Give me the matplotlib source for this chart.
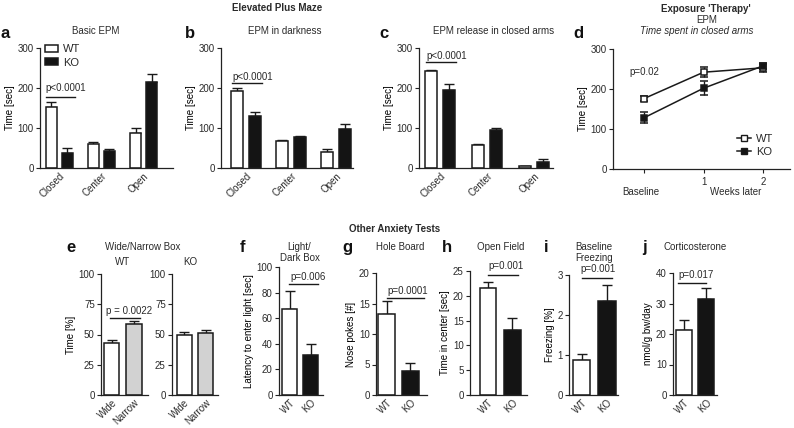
import matplotlib
matplotlib.use("Agg")
import matplotlib.pyplot as plt
from matplotlib.patches import Patch
from matplotlib.lines import Line2D

plt.rcParams['font.family'] = ['Liberation Sans', 'DejaVu Sans']
TXT = '#2a2a2a'
plt.rcParams['text.color'] = TXT
plt.rcParams['axes.edgecolor'] = '#222222'
plt.rcParams['xtick.color'] = '#222222'
plt.rcParams['ytick.color'] = '#222222'
plt.rcParams['xtick.labelcolor'] = TXT
plt.rcParams['ytick.labelcolor'] = TXT

# ---------------- data ----------------
epm_categories = ['Closed', 'Center', 'Open']
a_wt = [152, 60, 87];   a_wt_err = [13, 5, 13]
a_ko = [37, 42, 216];   a_ko_err = [13, 6, 18]
b_wt = [193, 68, 41];   b_wt_err = [6, 2, 6]
b_ko = [129, 77, 97];   b_ko_err = [12, 4, 13]
c_wt = [242, 58, 4];    c_wt_err = [2, 2, 2]
c_ko = [196, 94, 14];   c_ko_err = [13, 7, 8]

d_x = [0, 1, 2]
d_ticklabels = ['', '1', '2']
d_wt = [176, 242, 253]; d_wt_err = [6, 13, 10]
d_ko = [128, 202, 258]; d_ko_err = [14, 18, 8]

box_categories = ['Wide', 'Narrow']
e_wt = [43, 58.5];  e_wt_err = [2.5, 2.3]
e_ko = [50, 51.5];  e_ko_err = [2.3, 2.3]

geno = ['WT', 'KO']
f_vals = [67.5, 31];    f_err = [13.5, 8.5]
g_vals = [13.3, 4.0];   g_err = [2.1, 1.3]
h_vals = [21.5, 13.1];  h_err = [1.3, 2.5]
i_vals = [0.88, 2.35];  i_err = [0.15, 0.41]
j_vals = [21.2, 31.5];  j_err = [3.5, 3.5]

W, H = 794, 428
fig = plt.figure(figsize=(W / 100, H / 100), dpi=100)


def px_axes(l, t, r, b):
    return fig.add_axes([l / W, 1 - b / H, (r - l) / W, (b - t) / H])


def ftext(x, y, s, **kw):
    kw.setdefault('ha', 'center')
    kw.setdefault('va', 'center')
    fig.text(x / W, 1 - y / H, s, **kw)


def style(ax, ylim, yticks, xlim):
    ax.set_ylim(*ylim)
    ax.set_xlim(*xlim)
    ax.set_yticks(yticks)
    for s in ['top', 'right']:
        ax.spines[s].set_visible(False)
    for s in ['left', 'bottom']:
        ax.spines[s].set_linewidth(0.9)
    ax.tick_params(axis='y', length=3, width=0.8, labelsize=7, pad=1.5)
    ax.tick_params(axis='x', length=0, labelsize=7, pad=2)
    ax.patch.set_alpha(0)


def bars(ax, xs, vals, errs, color, width):
    ax.bar(xs, vals, width=width, color=color, edgecolor='#1a1a1a', linewidth=1.1, zorder=2)
    ax.errorbar(xs, vals, yerr=[[0] * len(vals), errs], fmt='none', ecolor='#1a1a1a',
                elinewidth=1.0, capsize=3.5, capthick=1.0, zorder=1)


def pline(ax, x0, x1, y, ty, tx, label, ha='left'):
    ax.plot([x0, x1], [y, y], color='#1a1a1a', lw=1.0, clip_on=False)
    ax.text(tx, ty, label, ha=ha, va='center', fontsize=7, clip_on=False)


def epm_panel(box, xlim, wt, wt_err, ko, ko_err, off, width):
    ax = px_axes(*box)
    xs = list(range(len(epm_categories)))
    bars(ax, [x - off for x in xs], wt, wt_err, 'white', width)
    bars(ax, [x + off for x in xs], ko, ko_err, '#141414', width)
    style(ax, (0, 300), [0, 100, 200, 300], xlim)
    ax.set_xticks(xs)
    ax.set_xticklabels(epm_categories, rotation=45, ha='right', rotation_mode='anchor')
    ax.set_ylabel('Time [sec]', fontsize=7, labelpad=2)
    return ax

# ---------- top row ----------
ax_a = epm_panel((40, 48, 173, 168), (-0.46, 2.70), a_wt, a_wt_err, a_ko, a_ko_err, 0.19, 0.27)
pline(ax_a, -0.32, 0.37, 177, 200, -0.32, 'p<0.0001')
ax_a.legend(handles=[Patch(facecolor='white', edgecolor='#1a1a1a', lw=1.1),
                     Patch(facecolor='#141414', edgecolor='#1a1a1a', lw=1.1)],
            labels=['WT', 'KO'], loc='upper left', bbox_to_anchor=(0.04, 1.03),
            frameon=False, fontsize=8, handlelength=1.1, handleheight=0.55,
            handletextpad=0.5, labelspacing=0.3, borderpad=0, borderaxespad=0)

ax_b = epm_panel((221, 48, 353, 168), (-0.56, 2.38), b_wt, b_wt_err, b_ko, b_ko_err, 0.2, 0.27)
pline(ax_b, -0.31, 0.36, 212, 227, -0.31, 'p<0.0001')

ax_c = epm_panel((419, 48, 553, 168), (-0.45, 2.40), c_wt, c_wt_err, c_ko, c_ko_err, 0.19, 0.25)
pline(ax_c, -0.30, 0.34, 265, 280, -0.30, 'p<0.0001')

ax_d = px_axes(613, 49, 790, 169)
ax_d.errorbar(d_x, d_wt, yerr=d_wt_err, color='#1a1a1a', lw=1.1, marker='s', ms=5,
              mfc='white', mec='#1a1a1a', mew=1.1, capsize=3, elinewidth=1.0, zorder=3, label='WT')
ax_d.errorbar(d_x, d_ko, yerr=d_ko_err, color='#1a1a1a', lw=1.1, marker='s', ms=5,
              mfc='#141414', mec='#1a1a1a', mew=1.1, capsize=3, elinewidth=1.0, zorder=3, label='KO')
style(ax_d, (0, 300), [0, 100, 200, 300], (-0.52, 2.45))
ax_d.set_xticks(d_x)
ax_d.set_xticklabels(d_ticklabels)
ax_d.tick_params(axis='x', length=3, width=0.8, labelsize=7, pad=3)
ax_d.set_ylabel('Time [sec]', fontsize=7, labelpad=2)
ax_d.text(-0.24, 242, 'p=0.02', ha='left', va='center', fontsize=7)
ax_d.legend(handles=[Line2D([], [], color='#1a1a1a', lw=1.1, marker='s', ms=5, mfc='white', mec='#1a1a1a'),
                     Line2D([], [], color='#1a1a1a', lw=1.1, marker='s', ms=5, mfc='#141414', mec='#1a1a1a')],
            labels=['WT', 'KO'], loc='upper left', bbox_to_anchor=(0.70, 0.29),
            frameon=False, fontsize=8, handlelength=1.3, handletextpad=0.4,
            labelspacing=0.25, borderpad=0, borderaxespad=0)
ftext(641, 192, 'Baseline', fontsize=7)
ftext(736, 192, 'Weeks later', fontsize=7)

# ---------- bottom row ----------
def two_bar(box, xlim, ylim, yticks, vals, errs, colors, labels, ylabel, width=0.7):
    ax = px_axes(*box)
    xs = [0, 1]
    for x, v, e, c in zip(xs, vals, errs, colors):
        bars(ax, [x], [v], [e], c, width)
    style(ax, ylim, yticks, xlim)
    ax.set_xticks(xs)
    ax.set_xticklabels(labels, rotation=45, ha='right', rotation_mode='anchor')
    if ylabel:
        ax.set_ylabel(ylabel, fontsize=7, labelpad=2)
    return ax

ax_e1 = two_bar((101, 274, 148, 395), (-0.47, 1.62), (0, 100), [0, 25, 50, 75, 100],
                e_wt, e_wt_err, ['white', '#d2d2d2'], box_categories, 'Time [%]')
pline(ax_e1, -0.07, 1.26, 63.6, 69.4, 0.76, 'p = 0.0022', ha='center')
ax_e2 = two_bar((172, 274, 218, 395), (-0.56, 1.58), (0, 100), [0, 25, 50, 75, 100],
                e_ko, e_ko_err, ['white', '#d2d2d2'], box_categories, None)

ax_f = two_bar((279, 267, 323, 395), (-0.49, 1.56), (0, 100), [0, 20, 40, 60, 80, 100],
               f_vals, f_err, ['white', '#141414'], geno, 'Latency to enter light [sec]')
pline(ax_f, -0.02, 1.33, 86.7, 92.2, 0.02, 'p=0.006')

ax_g = two_bar((376, 273, 427, 395), (-0.44, 1.69), (0, 20), [0, 5, 10, 15, 20],
               g_vals, g_err, ['white', '#141414'], geno, 'Nose pokes [#]')
pline(ax_g, 0.02, 1.57, 15.9, 17.0, 0.02, 'p=0.0001')

ax_h = two_bar((470, 271, 527, 395), (-0.75, 1.62), (0, 25), [0, 5, 10, 15, 20, 25],
               h_vals, h_err, ['white', '#141414'], geno, 'Time in center [sec]')
pline(ax_h, 0.0, 1.25, 24.2, 26.0, 0.0, 'p=0.001')

ax_i = two_bar((569, 275, 618, 395), (-0.49, 1.43), (0, 3), [0, 1, 2, 3],
               i_vals, i_err, ['white', '#141414'], geno, 'Freezing [%]')
pline(ax_i, 0.02, 1.19, 2.93, 3.15, -0.06, 'p=0.001')

ax_j = two_bar((673, 273, 717, 395), (-0.46, 1.46), (0, 40), [0, 10, 20, 30, 40],
               j_vals, j_err, ['white', '#141414'], geno, 'nmol/g bw/day')
pline(ax_j, -0.24, 1.0, 36.7, 39.3, -0.24, 'p=0.017')

# ---------- texts ----------
ftext(277, 8, 'Elevated Plus Maze', fontsize=7, fontweight='bold')
ftext(706, 9, "Exposure 'Therapy'", fontsize=7, fontweight='bold')
ftext(707, 20, 'EPM', fontsize=7)
ftext(697, 31, 'Time spent in closed arms', fontsize=7, style='italic')
ftext(96, 31, 'Basic EPM', fontsize=7)
ftext(285, 31, 'EPM in darkness', fontsize=7)
ftext(494, 31, 'EPM release in closed arms', fontsize=7)
for x, y, s in [(5, 33, 'a'), (190, 33, 'b'), (384, 33, 'c'), (578, 33, 'd'),
                (71, 247, 'e'), (243, 247, 'f'), (347, 248, 'g'), (447, 247, 'h'),
                (546, 247, 'i'), (644, 248, 'j')]:
    ftext(x, y, s, fontsize=12, fontweight='bold', color='#111111')

ftext(395, 229, 'Other Anxiety Tests', fontsize=7, fontweight='bold')
ftext(143, 247, 'Wide/Narrow Box', fontsize=7)
ftext(123, 262, 'WT', fontsize=7)
ftext(190, 262, 'KO', fontsize=7)
ftext(299, 247, 'Light/', fontsize=7)
ftext(300, 258, 'Dark Box', fontsize=7)
ftext(400, 247, 'Hole Board', fontsize=7)
ftext(501, 247, 'Open Field', fontsize=7)
ftext(594, 247, 'Baseline', fontsize=7)
ftext(594, 258, 'Freezing', fontsize=7)
ftext(695, 247, 'Corticosterone', fontsize=7)

fig.savefig('out.png', dpi=100)
